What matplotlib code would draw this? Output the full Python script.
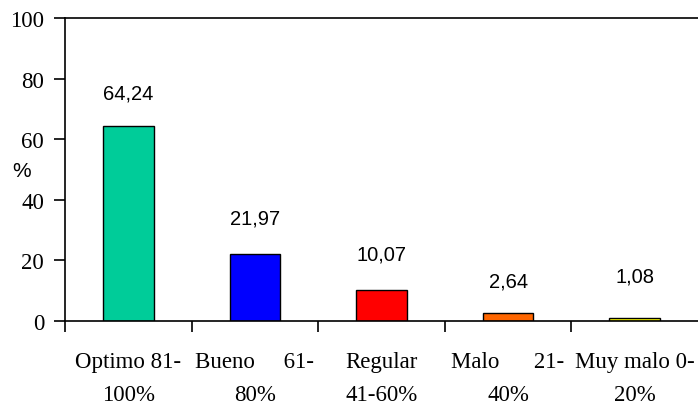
import matplotlib.pyplot as plt

categories = ["Optimo 81-\n100%", "Bueno     61-\n80%", "Regular\n41-60%",
              "Malo      21-\n40%", "Muy malo 0-\n20%"]
values = [64.24, 21.97, 10.07, 2.64, 1.08]
value_labels = ["64,24", "21,97", "10,07", "2,64", "1,08"]
colors = ["#00CC99", "#0000FF", "#FF0000", "#FF6600", "#FFFF00"]
# where the value labels sit (y, in axis units)
label_y = [75.1, 34.0, 22.1, 13.2, 14.9]


def make_graph():
    fig = plt.figure(figsize=(6.98, 4.06), dpi=100)
    ax = fig.add_axes([65 / 698, 1 - 322 / 406, (698 - 65) / 698, 303 / 406])
    x = list(range(len(values)))
    ax.bar(x, values, width=0.40, color=colors, edgecolor="black", linewidth=1)
    for xi, ly, txt in zip(x, label_y, value_labels):
        ax.text(xi, ly, txt, ha="center", va="center", fontsize=14.5,
                family="Liberation Sans")

    ax.set_xlim(-0.5, 4.5)
    ax.set_ylim(0, 100)
    ax.spines["right"].set_visible(False)
    for s in ["left", "top", "bottom"]:
        ax.spines[s].set_linewidth(1.2)

    ax.set_yticks([0, 20, 40, 60, 80, 100])
    ax.tick_params(axis="y", direction="out", length=8, width=1.2, pad=7,
                   labelsize=16.5, labelfontfamily="Liberation Serif")

    # category boundary ticks, labels centred under the bars
    ax.set_xticks([-0.5, 0.5, 1.5, 2.5, 3.5])
    ax.set_xticklabels([])
    ax.tick_params(axis="x", direction="out", length=8, width=1.2)
    for xi, cat in zip(x, categories):
        ax.text(xi, -10, cat, ha="center", va="top", fontsize=16.5,
                family="Liberation Serif", linespacing=1.75)

    fig.text(22 / 698, 1 - 172 / 406, "%", ha="center", va="center",
             fontsize=15, family="Liberation Sans")
    fig.savefig("out.png", dpi=100)


if __name__ == "__main__":
    make_graph()
